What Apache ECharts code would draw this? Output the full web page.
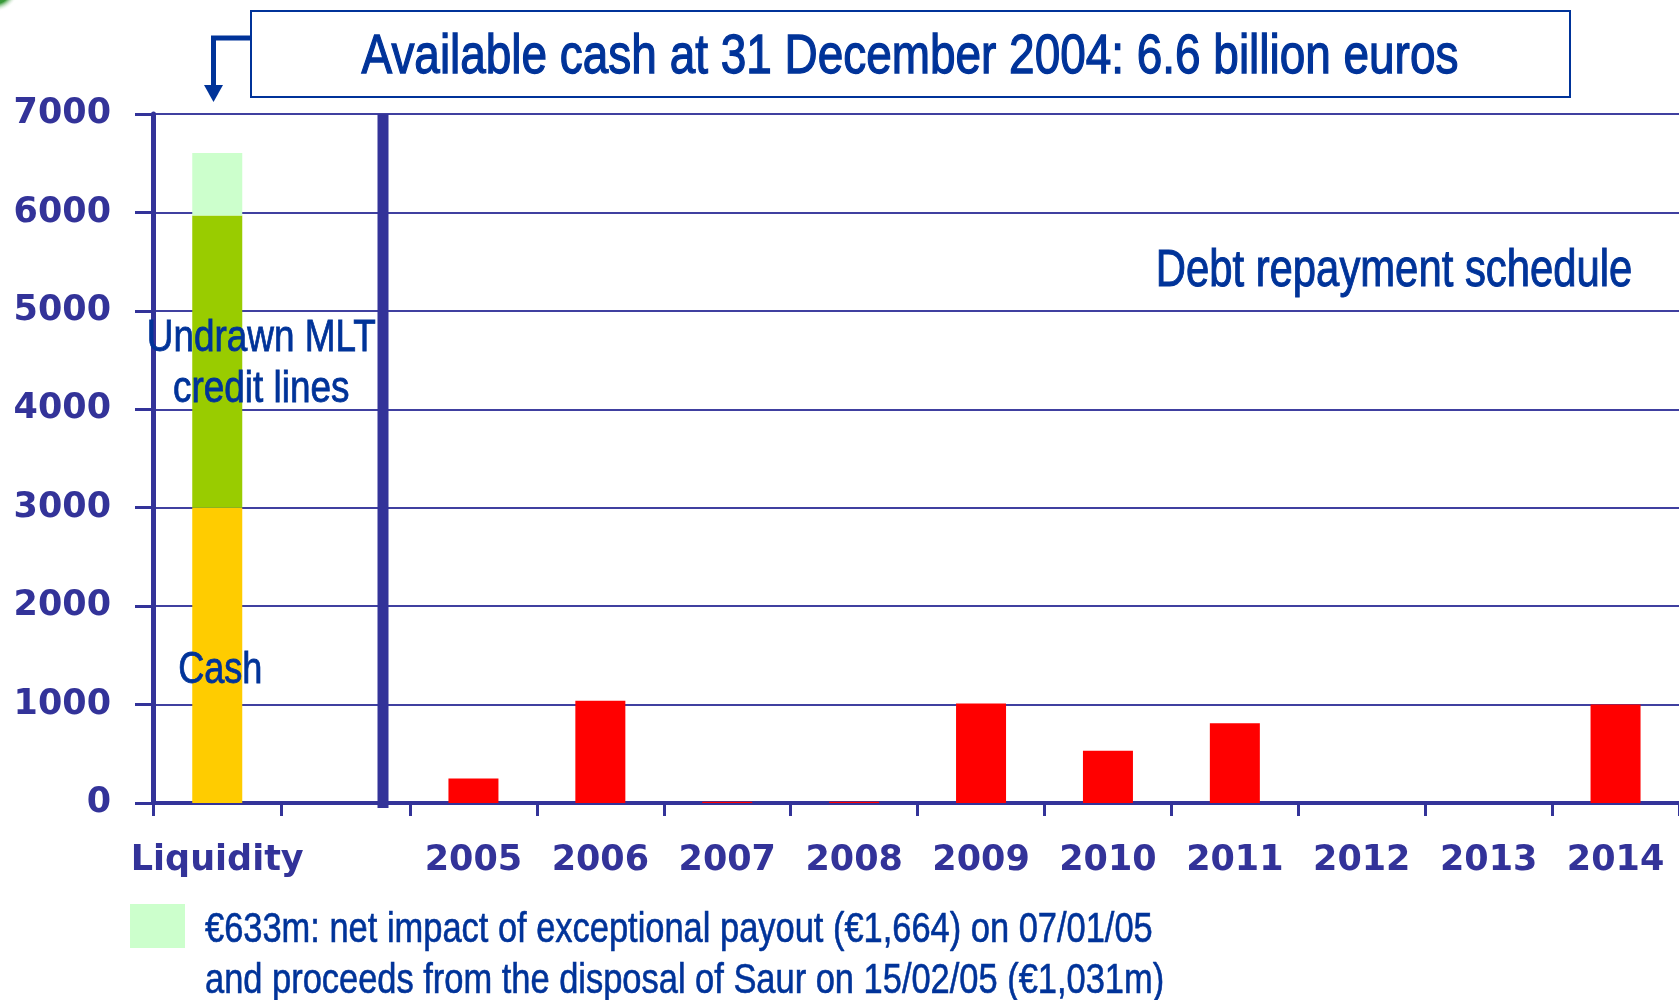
<!DOCTYPE html>
<html>
<head>
<meta charset="utf-8">
<script src="https://cdn.jsdelivr.net/npm/echarts@6/dist/echarts.min.js"></script>
<style>
html,body{margin:0;padding:0;background:#fff;}
#chart{width:1679px;height:1000px;}
</style>
</head>
<body>
<div id="chart"></div>
<script>
// ---- data ----
const liquidityCategories = ['Liquidity', ''];
const cashValues = [3000, null];
const undrawnValues = [2970, null];
const payoutImpactValues = [633, null];
const years = ['2005', '2006', '2007', '2008', '2009', '2010', '2011', '2012', '2013', '2014'];
const debtRepayment = [250, 1040, 12, 12, 1010, 530, 810, 0, 0, 1000];
const yMin = 0, yMax = 7000, yStep = 1000;

const titleText = 'Available cash at 31 December 2004: 6.6 billion euros';
const scheduleText = 'Debt repayment schedule';
const cashText = 'Cash';
const undrawnText = 'Undrawn MLT\ncredit lines';
const noteLines = ['€633m: net impact of exceptional payout (€1,664) on 07/01/05',
                   'and proceeds from the disposal of Saur on 15/02/05 (€1,031m)'];

// ---- styles ----
const AX = '#333399';
const TXT = '#003399';
const NARROW = '"Liberation Sans Narrow", "Liberation Sans", Arial, sans-serif';
const AXFONT = '"DejaVu Sans", Verdana, sans-serif';
const SQ = 0.82; // horizontal squeeze to imitate a narrow typeface

const chart = echarts.init(document.getElementById('chart'));

const xAxisCommon = {
  type: 'category',
  boundaryGap: true,
  axisLine: { show: true, lineStyle: { color: AX, width: 4 } },
  axisTick: { show: true, length: 13, lineStyle: { color: AX, width: 3 } },
  axisLabel: { interval: 0, color: AX, fontFamily: AXFONT, fontWeight: 'bold', fontSize: 35, margin: 40 }
};
const splitLine = { show: true, lineStyle: { color: '#4040a0', width: 2 } };

chart.setOption({
  animation: false,
  backgroundColor: '#fff',
  grid: [
    { left: 153, top: 114, width: 257, bottom: 197 },
    { left: 410, top: 114, width: 1275, bottom: 197 }
  ],
  xAxis: [
    Object.assign({ gridIndex: 0, data: liquidityCategories }, xAxisCommon),
    Object.assign({ gridIndex: 1, data: years }, xAxisCommon)
  ],
  yAxis: [
    { gridIndex: 0, type: 'value', min: yMin, max: yMax, interval: yStep,
      axisLine: { show: true, lineStyle: { color: AX, width: 5 } },
      axisTick: { show: true, length: 18, lineStyle: { color: AX, width: 3 } },
      axisLabel: { color: AX, fontFamily: AXFONT, fontWeight: 'bold', fontSize: 35, margin: 42,
                   formatter: function (v) { return String(v); } },
      splitLine: splitLine },
    { gridIndex: 1, type: 'value', min: yMin, max: yMax, interval: yStep,
      axisLine: { show: false }, axisTick: { show: false }, axisLabel: { show: false },
      splitLine: splitLine }
  ],
  series: [
    { name: 'Cash', type: 'bar', stack: 'liq', xAxisIndex: 0, yAxisIndex: 0, data: cashValues,
      barWidth: 50, itemStyle: { color: '#ffcc00' } },
    { name: 'Undrawn MLT credit lines', type: 'bar', stack: 'liq', xAxisIndex: 0, yAxisIndex: 0, data: undrawnValues,
      barWidth: 50, itemStyle: { color: '#99cc00' } },
    { name: 'Net impact', type: 'bar', stack: 'liq', xAxisIndex: 0, yAxisIndex: 0, data: payoutImpactValues,
      barWidth: 50, itemStyle: { color: '#ccffcc' } },
    { name: 'Debt repayment', type: 'bar', xAxisIndex: 1, yAxisIndex: 1, data: debtRepayment,
      barWidth: 50, itemStyle: { color: '#ff0000' } }
  ]
});

// label positions derived from the data through the axes
const cashMid = chart.convertToPixel({ gridIndex: 0 }, [0, cashValues[0] / 2]);
const undrawnMid = chart.convertToPixel({ gridIndex: 0 }, [0, cashValues[0] + undrawnValues[0] / 2]);

function narrowText(x, y, text, size, weight, extra) {
  return Object.assign({ type: 'text', x: x, y: y, scaleX: SQ, z: 60,
    style: Object.assign({ text: text, fill: TXT, font: size + 'px ' + NARROW,
      stroke: TXT, lineWidth: weight,
      textAlign: 'center', textVerticalAlign: 'middle' }, extra || {}) });
}

chart.setOption({
  graphic: [
    // corner decoration
    { type: 'circle', shape: { cx: -6, cy: -14, r: 26 }, z: 1,
      style: { fill: new echarts.graphic.RadialGradient(0.5, 0.5, 0.5, [
        { offset: 0, color: '#0a7a1a' }, { offset: 0.7, color: '#3a9a3a' }, { offset: 1, color: 'rgba(255,255,255,0)' }]) } },
    // divider between liquidity and schedule
    { type: 'rect', shape: { x: 377.5, y: 114, width: 11, height: 694 }, z: 100,
      style: { fill: AX } },
    // title box
    { type: 'rect', shape: { x: 251, y: 11, width: 1319, height: 86 }, z: 50,
      style: { fill: '#fff', stroke: TXT, lineWidth: 2 } },
    narrowText(910, 58, titleText, 56, 1.3),
    // arrow
    { type: 'polyline', shape: { points: [[251, 38], [213.5, 38], [213.5, 88]] }, z: 50,
      style: { stroke: TXT, lineWidth: 5, fill: null } },
    { type: 'polygon', shape: { points: [[204, 85], [223, 85], [213.5, 102]] }, z: 50,
      style: { fill: TXT } },
    // schedule label
    narrowText(1394, 272, scheduleText, 51, 1),
    // bar labels
    narrowText(cashMid[0] + 3, cashMid[1] + 16, cashText, 44, 0.8),
    narrowText(undrawnMid[0] + 44, undrawnMid[1] + 3, undrawnText, 45, 0.8, { lineHeight: 51 }),
    // footnote
    { type: 'rect', shape: { x: 130, y: 904, width: 55, height: 44 }, z: 50, style: { fill: '#ccffcc' } },
    narrowText(205, 930, noteLines[0], 42, 0.6, { textAlign: 'left' }),
    narrowText(205, 981, noteLines[1], 42, 0.6, { textAlign: 'left' })
  ]
});
</script>
</body>
</html>
